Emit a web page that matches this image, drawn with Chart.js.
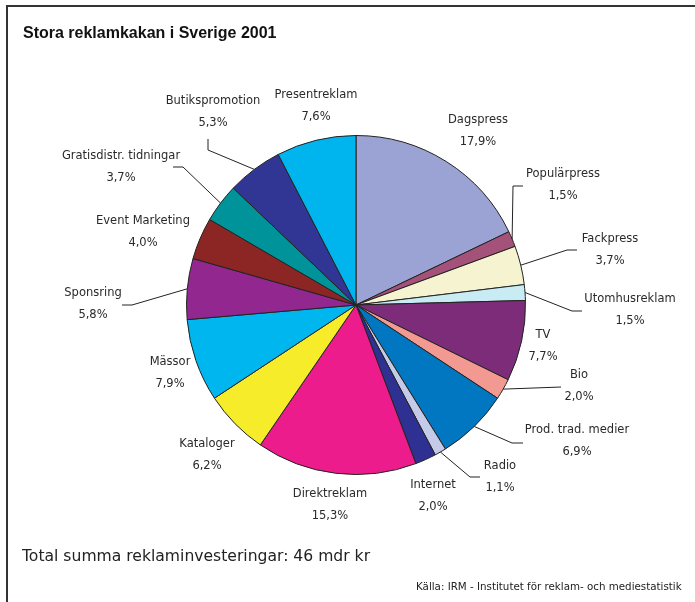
<!DOCTYPE html>
<html>
<head>
<meta charset="utf-8">
<script src="https://cdn.jsdelivr.net/npm/chart.js@4.4.0/dist/chart.umd.min.js"></script>
<style>
html,body{margin:0;padding:0;background:#fff;}
#wrap{width:695px;height:602px;position:relative;}
</style>
</head>
<body>
<div id="wrap"><canvas id="c" width="695" height="602"></canvas></div>
<script>
const categories = ["Dagspress","Populärpress","Fackpress","Utomhusreklam","TV","Bio","Prod. trad. medier","Radio","Internet","Direktreklam","Kataloger","Mässor","Sponsring","Event Marketing","Gratisdistr. tidningar","Butikspromotion","Presentreklam"];
const values = [17.9,1.5,3.7,1.5,7.7,2.0,6.9,1.1,2.0,15.3,6.2,7.9,5.8,4.0,3.7,5.3,7.6];
const valueLabels = ["17,9%","1,5%","3,7%","1,5%","7,7%","2,0%","6,9%","1,1%","2,0%","15,3%","6,2%","7,9%","5,8%","4,0%","3,7%","5,3%","7,6%"];
const titleText = "Stora reklamkakan i Sverige 2001";
const totalText = "Total summa reklaminvesteringar: 46 mdr kr";
const sourceText = "Källa: IRM - Institutet för reklam- och mediestatistik";

const colors = ["#9BA3D4","#A4527A","#F5F3D0","#C9EBF4","#7D2C7A","#F29A91","#0077C0","#C5CAE8","#2E3192","#EC1C8C","#F7EC2A","#00B6EE","#92278F","#8B2624","#00949A","#313594","#00B4ED"];

// label layout: text position and optional leader elbow/end, relative to pie centre
const labelLayout = [
  {t:[122,-185]},
  {t:[207,-131], e:[157,-119], n:[167,-119]},
  {t:[254,-66], e:[211,-55], n:[221,-55]},
  {t:[274,-6], e:[216,6], n:[226,6]},
  {t:[187,30]},
  {t:[223,70], e:[205,82], n:[205,82]},
  {t:[221,125], e:[156,138], n:[167,138]},
  {t:[144,161], e:[114,172], n:[124,172]},
  {t:[77,180]},
  {t:[-26,189]},
  {t:[-149,139]},
  {t:[-186,57]},
  {t:[-263,-12], e:[-224,0], n:[-234,0]},
  {t:[-213,-84]},
  {t:[-235,-149], e:[-173,-138], n:[-183,-138]},
  {t:[-143,-204], e:[-148,-155], n:[-148,-166]},
  {t:[-40,-210]}
];

const decor = {
  id:'decor',
  afterDraw(chart){
    const ctx = chart.ctx;
    const meta = chart.getDatasetMeta(0);
    ctx.save();
    // frame
    ctx.strokeStyle = '#333';
    ctx.lineWidth = 2;
    ctx.beginPath();
    ctx.moveTo(7,602); ctx.lineTo(7,6); ctx.lineTo(695,6);
    ctx.stroke();
    // title
    ctx.fillStyle = '#111';
    ctx.font = 'bold 16px "Liberation Sans", Arial, sans-serif';
    ctx.textAlign = 'left'; ctx.textBaseline = 'middle';
    ctx.fillText(titleText, 23, 34);
    ctx.fillStyle = '#222';
    ctx.font = '15.6px "DejaVu Sans", sans-serif';
    ctx.fillText(totalText, 22, 557);
    ctx.font = '10.3px "DejaVu Sans", sans-serif';
    ctx.fillText(sourceText, 416, 587);
    // labels
    ctx.font = '11.5px "DejaVu Sans", sans-serif';
    ctx.textAlign = 'center';
    ctx.fillStyle = '#2a2a2a';
    ctx.strokeStyle = '#222';
    ctx.lineWidth = 1;
    meta.data.forEach((arc,i)=>{
      const p = arc.getProps(['x','y','startAngle','endAngle','outerRadius'], true);
      const cx = p.x, cy = p.y;
      const L = labelLayout[i];
      ctx.fillText(categories[i], cx+L.t[0], cy+L.t[1]);
      ctx.fillText(valueLabels[i], cx+L.t[0], cy+L.t[1]+22);
      if (L.e){
        const mid = (p.startAngle+p.endAngle)/2;
        const sx = cx + Math.cos(mid)*p.outerRadius;
        const sy = cy + Math.sin(mid)*p.outerRadius;
        ctx.beginPath();
        ctx.moveTo(sx,sy);
        ctx.lineTo(cx+L.e[0], cy+L.e[1]);
        ctx.lineTo(cx+L.n[0], cy+L.n[1]);
        ctx.stroke();
      }
    });
    ctx.restore();
  }
};

new Chart(document.getElementById('c'), {
  type:'pie',
  data:{labels:categories, datasets:[{data:values, backgroundColor:colors, borderColor:'#222', borderWidth:1}]},
  options:{
    responsive:false, animation:false,
    layout:{padding:{left:186,right:169,top:135,bottom:127}},
    plugins:{legend:{display:false}, tooltip:{enabled:false}, title:{display:false}}
  },
  plugins:[decor]
});
</script>
</body>
</html>
